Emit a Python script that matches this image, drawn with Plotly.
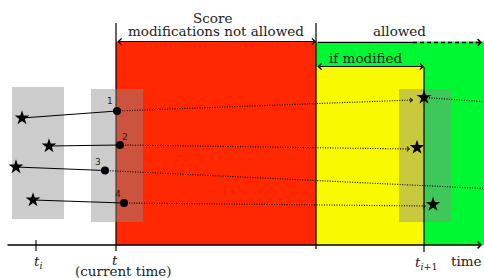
import plotly.graph_objects as go

W, H = 484, 278

# ---- diagram data (pixel-like coordinates of the sketch) ----
axis_y = 245
axis_x = [6, 482]
tick_x = [36, 116]                      # t_i, t
boundary_x = [116, 316, 424]            # t, end of "not allowed", t_{i+1}
boundary_top = [23, 23, 67]
boundary_bottom = [251, 249, 252]

zone_names = ["not allowed", "allowed", "if modified"]
zone_x0 = [116, 316, 316]
zone_x1 = [316, 484, 424]
zone_top = [41.5, 41.5, 67]
zone_colors = ["#FF2800", "#00F832", "#F9F900"]

window_x0 = [12, 91, 399]
window_x1 = [64, 143, 451]
window_top = [87, 89, 89]
window_bottom = [219, 222, 222]

point_labels = ["1", "2", "3", "4"]
prev_x = [22, 49, 16, 33]
prev_y = [118, 146, 167, 200]
now_x = [117, 120, 105, 124]
now_y = [111, 145, 170.5, 203]
tip_x = [413, 410, 484, 426]
tip_y = [100, 149, 188.5, 206]
has_arrow = [True, True, False, True]
next_x = [424, 417, None, 433]
next_y = [97.5, 147.5, None, 204.5]
tail_x0, tail_y0, tail_x1, tail_y1 = 424, 97.5, 484, 101.7
label_x = [110, 125, 98, 118]
label_y = [101, 136.5, 162, 194]

text_items = [
    ("Score", 212, 18),
    ("modifications not allowed", 216, 31),
    ("allowed", 399, 31),
    ("if modified", 365, 57.5),
    ("<i>t</i><sub><i>i</i></sub>", 38, 262),
    ("<i>t</i>", 115, 260),
    ("(current time)", 123, 271),
    ("<i>t</i><sub><i>i</i>+1</sub>", 426, 263),
    ("time", 466, 261),
]
arrow_y = [41.5, 42.5, 66.5]
allowed_solid_end = 413
allowed_dash_end = 476

fig = go.Figure()

shapes = []
for x0, x1, y0, c in zip(zone_x0, zone_x1, zone_top, zone_colors):
    shapes.append(dict(type="rect", xref="x", yref="y", x0=x0, x1=x1, y0=y0, y1=axis_y,
                       fillcolor=c, line=dict(width=0), layer="below"))
for bx, bt, bb in zip(boundary_x[:2], boundary_top[:2], boundary_bottom[:2]):
    shapes.append(dict(type="line", xref="x", yref="y", x0=bx, x1=bx, y0=bt, y1=bb,
                       line=dict(color="black", width=1.2), layer="below"))
for x0, x1, y0, y1 in zip(window_x0, window_x1, window_top, window_bottom):
    shapes.append(dict(type="rect", xref="x", yref="y", x0=x0, x1=x1, y0=y0, y1=y1,
                       fillcolor="rgba(138,138,138,0.44)", line=dict(width=0), layer="below"))
shapes.append(dict(type="line", xref="x", yref="y", x0=boundary_x[2], x1=boundary_x[2],
                   y0=boundary_top[2], y1=boundary_bottom[2],
                   line=dict(color="black", width=1.2), layer="below"))
shapes.append(dict(type="line", xref="x", yref="y", x0=tick_x[0], x1=tick_x[0],
                   y0=axis_y - 5, y1=axis_y + 6, line=dict(color="black", width=1.1), layer="below"))
fig.update_layout(shapes=shapes)

sx, sy = [], []
for a, b, c, d in zip(prev_x, prev_y, now_x, now_y):
    sx += [a, c, None]; sy += [b, d, None]
fig.add_trace(go.Scatter(x=sx, y=sy, mode="lines", line=dict(color="black", width=1.1),
                         hoverinfo="skip"))
dx, dy = [], []
for a, b, c, d in zip(now_x, now_y, tip_x, tip_y):
    dx += [a, c, None]; dy += [b, d, None]
dx += [tail_x0, tail_x1]; dy += [tail_y0, tail_y1]
fig.add_trace(go.Scatter(x=dx, y=dy, mode="lines",
                         line=dict(color="black", width=1.1, dash="1px,1.5px"),
                         hoverinfo="skip"))
fig.add_trace(go.Scatter(x=[boundary_x[1] + 2, allowed_solid_end], y=[arrow_y[1], arrow_y[1]],
                         mode="lines", line=dict(color="black", width=1.2), hoverinfo="skip"))
fig.add_trace(go.Scatter(x=[allowed_solid_end, allowed_dash_end], y=[arrow_y[1], arrow_y[1]],
                         mode="lines", line=dict(color="black", width=1.4, dash="4px,3px"),
                         hoverinfo="skip"))
fig.add_trace(go.Scatter(x=prev_x + [v for v in next_x if v is not None],
                         y=prev_y + [v for v in next_y if v is not None],
                         mode="markers", marker=dict(symbol="star", size=11, color="black"),
                         hoverinfo="skip"))
fig.add_trace(go.Scatter(x=now_x, y=now_y, mode="markers",
                         marker=dict(symbol="circle", size=8, color="black"), hoverinfo="skip"))

ann = []
ann.append(dict(x=axis_x[1], y=axis_y, ax=axis_x[0], ay=axis_y, xref="x", yref="y",
                axref="x", ayref="y", text="", showarrow=True, arrowhead=4, arrowsize=1,
                arrowwidth=1.3, arrowcolor="black"))
ann.append(dict(x=boundary_x[1], y=arrow_y[0], ax=boundary_x[0], ay=arrow_y[0], xref="x", yref="y",
                axref="x", ayref="y", text="", showarrow=True, arrowhead=4, startarrowhead=4,
                arrowside="end+start", arrowsize=1, startarrowsize=1, arrowwidth=1.2, arrowcolor="black"))
ann.append(dict(x=boundary_x[2], y=arrow_y[2], ax=boundary_x[1], ay=arrow_y[2], xref="x", yref="y",
                axref="x", ayref="y", text="", showarrow=True, arrowhead=4, startarrowhead=4,
                arrowside="end+start", arrowsize=1, startarrowsize=1, arrowwidth=1.2, arrowcolor="black"))
ann.append(dict(x=axis_x[1], y=arrow_y[1], ax=allowed_dash_end - 2, ay=arrow_y[1], xref="x", yref="y",
                axref="x", ayref="y", text="", showarrow=True, arrowhead=4, arrowsize=1,
                arrowwidth=1.3, arrowcolor="black"))
for tx, ty, nx, ny, ok in zip(tip_x, tip_y, now_x, now_y, has_arrow):
    if ok:
        ax = tx - 5
        ay = ty - (ty - ny) * 5 / (tx - nx)
        ann.append(dict(x=tx, y=ty, ax=ax, ay=ay, xref="x", yref="y", axref="x", ayref="y",
                        text="", showarrow=True, arrowhead=4, arrowsize=0.9,
                        arrowwidth=1, arrowcolor="#222"))
for t, lx, ly in zip(point_labels, label_x, label_y):
    ann.append(dict(x=lx, y=ly, text=t, showarrow=False, xref="x", yref="y",
                    font=dict(family="DejaVu Sans", size=9, color="#222")))
for t, tx, ty in text_items:
    ann.append(dict(x=tx, y=ty, text=t, showarrow=False, xref="x", yref="y",
                    font=dict(family="DejaVu Serif", size=13.5, color="#222")))
fig.update_layout(annotations=ann)

fig.update_layout(
    width=W, height=H, margin=dict(l=0, r=0, t=0, b=0),
    paper_bgcolor="white", plot_bgcolor="white", showlegend=False,
    xaxis=dict(range=[0, W], visible=False, fixedrange=True),
    yaxis=dict(range=[H, 0], visible=False, fixedrange=True),
)
fig.write_html(
    "out.html",
    config={"displayModeBar": False, "staticPlot": True},
    post_script="document.body.style.margin='0';document.body.style.overflow='hidden';",
)
